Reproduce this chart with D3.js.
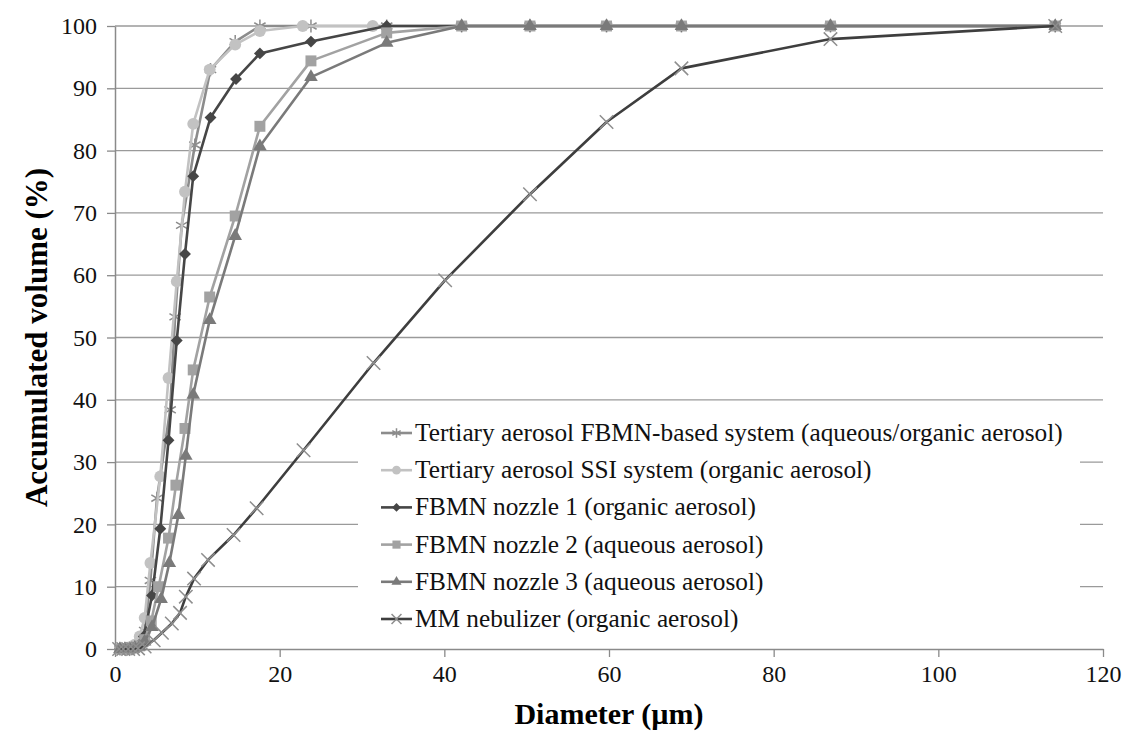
<!DOCTYPE html>
<html>
<head>
<meta charset="utf-8">
<script src="https://cdn.jsdelivr.net/npm/d3@7"></script>
<style>
    body { margin: 0; background: #fff; }
</style>
</head>
<body>
<div id="app"></div>
<script>
// series names (legend order)
const seriesNames = [
    'Tertiary aerosol FBMN-based system (aqueous/organic aerosol)',
    'Tertiary aerosol SSI system (organic aerosol)',
    'FBMN nozzle 1  (organic aerosol)',
    'FBMN nozzle 2 (aqueous aerosol)',
    'FBMN nozzle 3 (aqueous aerosol)',
    'MM nebulizer (organic aerosol)'
];

// diameter (µm) / accumulated volume (%)
const dTertFbmn = [0.6, 1.2, 1.8, 2.4, 3.0, 3.6, 4.3, 5.1, 6.7, 7.3, 8.1, 9.7, 11.6, 14.6, 17.6, 23.8, 33.0, 42.1, 50.4, 59.7, 68.8, 86.9, 114.2];
const vTertFbmn = [0, 0, 0, 0.3, 1.0, 3.0, 11.0, 24.2, 38.4, 53.3, 68.0, 80.9, 93.0, 97.5, 100, 100, 100, 100, 100, 100, 100, 100, 100];

const dTertSsi = [0.6, 1.2, 1.8, 2.4, 3.0, 3.6, 4.3, 5.5, 6.5, 7.5, 8.5, 9.5, 11.5, 14.6, 17.6, 22.8, 31.3];
const vTertSsi = [0, 0, 0.3, 0.7, 2.0, 5.0, 13.8, 27.7, 43.5, 59.0, 73.4, 84.3, 93.0, 97.0, 99.2, 100, 100];

const dNozzle1 = [0.6, 1.1, 1.7, 2.3, 2.9, 3.5, 4.5, 5.5, 6.5, 7.5, 8.5, 9.5, 11.6, 14.7, 17.6, 23.8, 33.0, 42.1, 50.4, 59.7, 68.8, 86.9, 114.2];
const vNozzle1 = [0, 0, 0, 0.2, 0.6, 2.0, 8.6, 19.3, 33.5, 49.5, 63.4, 75.9, 85.3, 91.5, 95.6, 97.5, 100, 100, 100, 100, 100, 100, 100];

const dNozzle2 = [0.6, 1.2, 1.8, 2.4, 3.0, 3.6, 4.4, 5.3, 6.5, 7.4, 8.5, 9.5, 11.5, 14.6, 17.6, 23.8, 33.0, 42.1, 50.4, 59.7, 68.8, 86.9, 114.2];
const vNozzle2 = [0, 0, 0, 0.2, 0.5, 1.5, 4.5, 10.0, 17.8, 26.3, 35.4, 44.8, 56.5, 69.5, 83.9, 94.4, 98.9, 100, 100, 100, 100, 100, 100];

const dNozzle3 = [0.6, 1.2, 1.8, 2.4, 3.0, 3.6, 4.5, 5.6, 6.6, 7.7, 8.6, 9.5, 11.5, 14.6, 17.6, 23.8, 33.0, 42.1, 50.4, 59.7, 68.8, 86.9, 114.2];
const vNozzle3 = [0, 0, 0, 0.2, 0.4, 1.2, 3.5, 8.0, 13.8, 21.5, 31.0, 40.8, 52.8, 66.3, 80.7, 91.8, 97.3, 100, 100, 100, 100, 100, 100];

const dMm = [0.5, 1.0, 1.6, 2.2, 2.8, 3.6, 4.7, 5.7, 6.9, 7.9, 8.6, 9.6, 11.3, 14.4, 17.2, 22.9, 31.4, 40.1, 50.4, 59.7, 68.8, 86.9, 114.2];
const vMm = [0, 0, 0, 0, 0.1, 0.4, 1.4, 2.6, 4.1, 5.8, 8.4, 11.3, 14.3, 18.3, 22.6, 31.9, 45.9, 59.2, 73.0, 84.6, 93.2, 97.9, 100];

const xTicks = [0, 20, 40, 60, 80, 100, 120];
const yTicks = [0, 10, 20, 30, 40, 50, 60, 70, 80, 90, 100];

const xValues = [dTertFbmn, dTertSsi, dNozzle1, dNozzle2, dNozzle3, dMm];
const yValues = [vTertFbmn, vTertSsi, vNozzle1, vNozzle2, vNozzle3, vMm];

// look of every series
const looks = [
    { line: '#8c8c8c', mark: '#8c8c8c', symbol: d3.symbolAsterisk, size: 120, stroked: true },
    { line: '#c2c2c2', mark: '#c2c2c2', symbol: d3.symbolCircle, size: 110, stroked: false },
    { line: '#464646', mark: '#464646', symbol: d3.symbolDiamond2, size: 90, stroked: false },
    { line: '#a2a2a2', mark: '#a2a2a2', symbol: d3.symbolSquare, size: 120, stroked: false },
    { line: '#7a7a7a', mark: '#7a7a7a', symbol: d3.symbolTriangle, size: 80, stroked: false },
    { line: '#3e3e3e', mark: '#8e8e8e', symbol: d3.symbolTimes, size: 120, stroked: true }
];

const serif = 'Liberation Serif';
const width = 1128, height = 751;
const margin = { top: 26, right: 25, bottom: 102, left: 115 };

const svg = d3.select('#app').append('svg').attr('width', width).attr('height', height);

const x = d3.scaleLinear().domain([0, 120]).range([margin.left, width - margin.right]);
const y = d3.scaleLinear().domain([0, 100]).range([height - margin.bottom, margin.top]);

// gridlines
svg.append('g')
    .selectAll('line').data(yTicks.filter(t => t > 0))
    .enter().append('line')
    .attr('x1', x(0)).attr('x2', x(120))
    .attr('y1', d => y(d)).attr('y2', d => y(d))
    .attr('stroke', '#9a9a9a').attr('stroke-width', 1.3);

// axes
const xAxis = svg.append('g')
    .attr('transform', `translate(0,${y(0)})`)
    .call(d3.axisBottom(x).tickValues(xTicks).tickSize(8).tickPadding(8).tickSizeOuter(0));
const yAxis = svg.append('g')
    .attr('transform', `translate(${x(0)},0)`)
    .call(d3.axisLeft(y).tickValues(yTicks).tickSize(8).tickPadding(10).tickSizeOuter(0));

[xAxis, yAxis].forEach(a => {
    a.select('.domain').attr('stroke', '#8a8a8a').attr('stroke-width', 1.5);
    a.selectAll('.tick line').attr('stroke', '#8a8a8a').attr('stroke-width', 1.3);
    a.selectAll('.tick text').attr('fill', '#111')
        .style('font-family', serif).style('font-size', '24px');
});

// axis titles
svg.append('text')
    .attr('x', (x(0) + x(120)) / 2).attr('y', 724)
    .attr('text-anchor', 'middle')
    .style('font-family', serif).style('font-size', '30px').style('font-weight', 'bold')
    .text('Diameter (µm)');

svg.append('text')
    .attr('transform', `translate(47,${(y(0) + y(100)) / 2}) rotate(-90)`)
    .attr('text-anchor', 'middle')
    .style('font-family', serif).style('font-size', '31px').style('font-weight', 'bold')
    .text('Accumulated volume (%)');

// series
const lineGen = d3.line().x(d => x(d[0])).y(d => y(d[1]));

function drawMark(g, look, px, py) {
    const p = g.append('path')
        .attr('d', d3.symbol().type(look.symbol).size(look.size)())
        .attr('transform', `translate(${px},${py})`);
    if (look.stroked) p.attr('fill', 'none').attr('stroke', look.mark).attr('stroke-width', 1.5);
    else p.attr('fill', look.mark);
}

seriesNames.forEach((name, i) => {
    const pts = xValues[i].map((d, j) => [d, yValues[i][j]]);
    const look = looks[i];
    const g = svg.append('g');
    g.append('path')
        .attr('d', lineGen(pts))
        .attr('fill', 'none')
        .attr('stroke', look.line)
        .attr('stroke-width', 2.6)
        .attr('stroke-linejoin', 'round');
    pts.forEach(p => drawMark(g, look, x(p[0]), y(p[1])));
});

// legend
const legend = svg.append('g');
legend.append('rect')
    .attr('x', 358).attr('y', 412).attr('width', 722).attr('height', 228)
    .attr('fill', '#fff');

seriesNames.forEach((name, i) => {
    const look = looks[i];
    const ly = 433 + i * 37.2;
    const row = legend.append('g');
    row.append('line')
        .attr('x1', 381).attr('x2', 412).attr('y1', ly).attr('y2', ly)
        .attr('stroke', look.line).attr('stroke-width', 2.6);
    drawMark(row, Object.assign({}, look, { size: look.size * 0.55 }), 396.5, ly);
    row.append('text')
        .attr('x', 415).attr('y', ly + 8)
        .style('font-family', serif).style('font-size', '25.3px')
        .attr('fill', '#111')
        .text(name);
});
</script>
</body>
</html>
